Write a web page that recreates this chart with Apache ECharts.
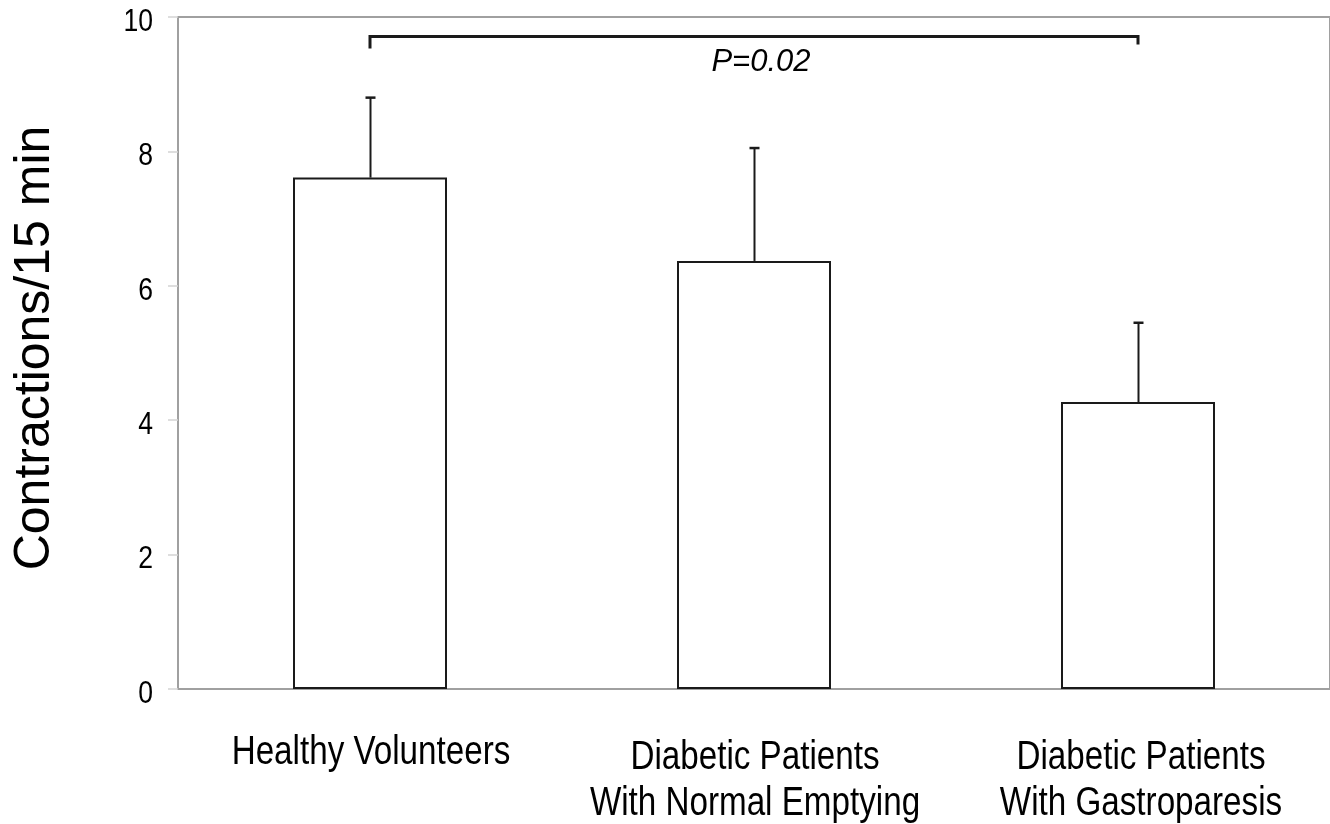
<!DOCTYPE html>
<html>
<head>
<meta charset="utf-8">
<script src="https://cdn.jsdelivr.net/npm/echarts@6/dist/echarts.min.js"></script>
<style>html,body{margin:0;padding:0;background:#fff}#c{width:1330px;height:824px}</style>
</head>
<body>
<div id="c"></div>
<script>
const categories = ['Healthy Volunteers', 'Diabetic Patients\nWith Normal Emptying', 'Diabetic Patients\nWith Gastroparesis'];
const means = [7.61, 6.37, 4.27];
const sdUpper = [1.19, 1.68, 1.18];
const yMin = 0, yMax = 10, yInterval = 2;
const yTickLabels = ['0', '2', '4', '6', '8', '10'];
const yTitle = 'Contractions/15 min';
// bracket: from category, to category, bar level, left end, right end
const bracket = [0, 2, 9.71, 9.53, 9.59];
const pLabel = 'P=0.02';
const pLabelPos = [1, 9.33];

const sans = '"Liberation Sans", Arial, sans-serif';
const ink = '#1a1a1a';
const grey = '#a0a0a0';
const squeeze = 0.83; // reference text is horizontally condensed

const chart = echarts.init(document.getElementById('c'));
chart.setOption({
  animation: false,
  backgroundColor: '#fff',
  grid: { left: 178, top: 17, width: 1157, bottom: 135, show: true, borderColor: grey, borderWidth: 2, backgroundColor: 'transparent' },
  xAxis: {
    type: 'category', data: categories,
    axisLine: { lineStyle: { color: grey, width: 2 } },
    axisTick: { show: false },
    axisLabel: { show: false }
  },
  yAxis: {
    type: 'value', min: yMin, max: yMax, interval: yInterval,
    name: yTitle, nameLocation: 'middle', nameRotate: 90, nameGap: 118,
    nameTextStyle: { color: '#000', fontFamily: sans, fontSize: 50, padding: [0, 0, 0, 10] },
    axisLine: { show: true, lineStyle: { color: grey, width: 2 } },
    axisTick: { show: true, length: 10, lineStyle: { color: '#d4d4d4', width: 1.5 } },
    splitLine: { show: false },
    axisLabel: { show: false }
  },
  series: [
    {
      type: 'bar', data: means, barWidth: 154,
      itemStyle: { color: '#fff', borderColor: ink, borderWidth: 2 }
    },
    {
      type: 'custom', z: 5,
      data: means.map((m, i) => [i, m, m + sdUpper[i]]),
      renderItem: function (params, api) {
        const base = api.coord([api.value(0), api.value(1)]);
        const top = api.coord([api.value(0), api.value(2)]);
        const x = Math.round(base[0]) + 0.5;
        return {
          type: 'group', children: [
            { type: 'line', shape: { x1: x, y1: base[1], x2: x, y2: top[1] }, style: { stroke: ink, lineWidth: 2 } },
            { type: 'line', shape: { x1: x - 5, y1: top[1], x2: x + 5, y2: top[1] }, style: { stroke: ink, lineWidth: 2.5 } }
          ]
        };
      }
    },
    {
      // category labels (condensed text)
      type: 'custom', z: 5, silent: true,
      data: categories.map((c, i) => [i, yMin]),
      renderItem: function (params, api) {
        const p = api.coord([api.value(0), api.value(1)]);
        const txt = categories[params.dataIndex];
        const dy = txt.indexOf('\n') >= 0 ? 46 : 41;
        return {
          type: 'text', x: p[0] + (params.dataIndex === 2 ? 3 : 1), y: p[1] + dy, scaleX: squeeze, scaleY: 1,
          style: { text: txt, x: 0, y: 0, align: 'center', verticalAlign: 'top', fontFamily: sans, fontSize: 40, lineHeight: 46, fill: '#000' }
        };
      }
    },
    {
      // y tick labels (condensed text)
      type: 'custom', z: 5, silent: true,
      data: yTickLabels.map((t, i) => [0, yMin + i * yInterval]),
      renderItem: function (params, api) {
        const p = api.coord([0, api.value(1)]);
        return {
          type: 'text', x: params.coordSys.x - 25, y: p[1] + 5, scaleX: squeeze, scaleY: 1,
          style: { text: yTickLabels[params.dataIndex], x: 0, y: 0, align: 'right', verticalAlign: 'middle', fontFamily: sans, fontSize: 32, fill: '#000' }
        };
      }
    },
    {
      type: 'custom', z: 5,
      data: [bracket],
      renderItem: function (params, api) {
        const a = api.coord([api.value(0), api.value(2)]);
        const b = api.coord([api.value(1), api.value(2)]);
        const aEnd = api.coord([api.value(0), api.value(3)]);
        const bEnd = api.coord([api.value(1), api.value(4)]);
        const lab = api.coord(pLabelPos);
        return {
          type: 'group', children: [
            { type: 'polyline', shape: { points: [[a[0], aEnd[1]], [a[0], a[1]], [b[0], b[1]], [b[0], bEnd[1]]] }, style: { stroke: ink, lineWidth: 3, fill: null } },
            { type: 'text', style: { text: pLabel, x: lab[0] + 7, y: lab[1], align: 'center', verticalAlign: 'middle', fontFamily: sans, fontStyle: 'italic', fontSize: 31, fill: '#000' } }
          ]
        };
      }
    }
  ]
});
</script>
</body>
</html>
